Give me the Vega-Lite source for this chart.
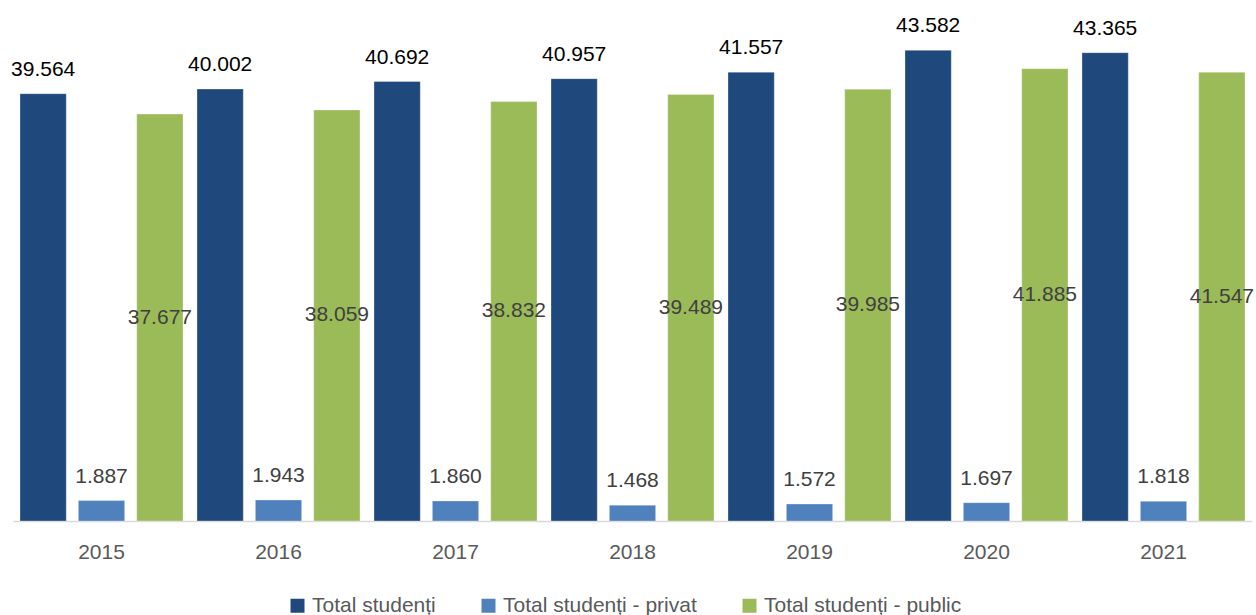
{
  "$schema": "https://vega.github.io/schema/vega-lite/v6.json",
  "width": 1239,
  "height": 486,
  "autosize": {"type": "none"},
  "padding": {"left": 13, "top": 35, "right": 4, "bottom": 94},
  "config": {
    "locale": {"number": {"decimal": ",", "thousands": ".", "grouping": [3], "currency": ["", ""]}},
    "view": {"stroke": null},
    "font": "Liberation Sans"
  },
  "data": {"values": [
    {"year": "2015", "series": "Total studenți", "value": 39564},
    {"year": "2015", "series": "Total studenți - privat", "value": 1887},
    {"year": "2015", "series": "Total studenți - public", "value": 37677},
    {"year": "2016", "series": "Total studenți", "value": 40002},
    {"year": "2016", "series": "Total studenți - privat", "value": 1943},
    {"year": "2016", "series": "Total studenți - public", "value": 38059},
    {"year": "2017", "series": "Total studenți", "value": 40692},
    {"year": "2017", "series": "Total studenți - privat", "value": 1860},
    {"year": "2017", "series": "Total studenți - public", "value": 38832},
    {"year": "2018", "series": "Total studenți", "value": 40957},
    {"year": "2018", "series": "Total studenți - privat", "value": 1468},
    {"year": "2018", "series": "Total studenți - public", "value": 39489},
    {"year": "2019", "series": "Total studenți", "value": 41557},
    {"year": "2019", "series": "Total studenți - privat", "value": 1572},
    {"year": "2019", "series": "Total studenți - public", "value": 39985},
    {"year": "2020", "series": "Total studenți", "value": 43582},
    {"year": "2020", "series": "Total studenți - privat", "value": 1697},
    {"year": "2020", "series": "Total studenți - public", "value": 41885},
    {"year": "2021", "series": "Total studenți", "value": 43365},
    {"year": "2021", "series": "Total studenți - privat", "value": 1818},
    {"year": "2021", "series": "Total studenți - public", "value": 41547}
  ]},
  "encoding": {
    "x": {
      "field": "year", "type": "nominal",
      "scale": {"paddingInner": 0.079, "paddingOuter": 0.0395},
      "axis": {"title": null, "labelAngle": 0, "ticks": false, "domainColor": "#d9d9d9", "domainWidth": 1.5, "labelFontSize": 21, "labelColor": "#595959", "labelPadding": 20}
    },
    "xOffset": {
      "field": "series", "type": "nominal",
      "sort": ["Total studenți", "Total studenți - privat", "Total studenți - public"],
      "scale": {"paddingInner": 0.207, "paddingOuter": 0}
    }
  },
  "layer": [
    {
      "mark": {"type": "bar", "stroke": "#ffffff", "strokeWidth": 0.5, "strokeOpacity": 0.6},
      "encoding": {
        "y": {"field": "value", "type": "quantitative", "scale": {"domain": [0, 45000]}, "axis": null},
        "color": {
          "field": "series", "type": "nominal",
          "scale": {"domain": ["Total studenți", "Total studenți - privat", "Total studenți - public"], "range": ["#1f497d", "#4f81bd", "#9bbb59"]},
          "legend": {"title": null, "orient": "none", "legendX": 274, "legendY": 560, "direction": "horizontal", "symbolType": "square", "symbolSize": 196, "symbolStrokeWidth": 0, "labelFontSize": 21, "labelColor": "#595959", "columnPadding": 42, "labelOffset": 4, "labelLimit": 500}
        }
      }
    },
    {
      "transform": [{"filter": "datum.series != 'Total studenți - public'"}],
      "mark": {"type": "text", "dy": -18, "baseline": "alphabetic", "fontSize": 21},
      "encoding": {
        "y": {"field": "value", "type": "quantitative", "scale": {"domain": [0, 45000]}, "axis": null},
        "text": {"field": "value", "type": "quantitative", "format": ",d"},
        "color": {"condition": {"test": "datum.series === 'Total studenți'", "value": "#000000"}, "value": "#404040"}
      }
    },
    {
      "transform": [{"filter": "datum.series == 'Total studenți - public'"}],
      "mark": {"type": "text", "baseline": "middle", "fontSize": 21, "color": "#404040"},
      "encoding": {
        "y": {"field": "value", "type": "quantitative", "scale": {"domain": [0, 90000]}, "axis": null},
        "text": {"field": "value", "type": "quantitative", "format": ",d"}
      }
    }
  ],
  "resolve": {"scale": {"y": "independent"}}
}
